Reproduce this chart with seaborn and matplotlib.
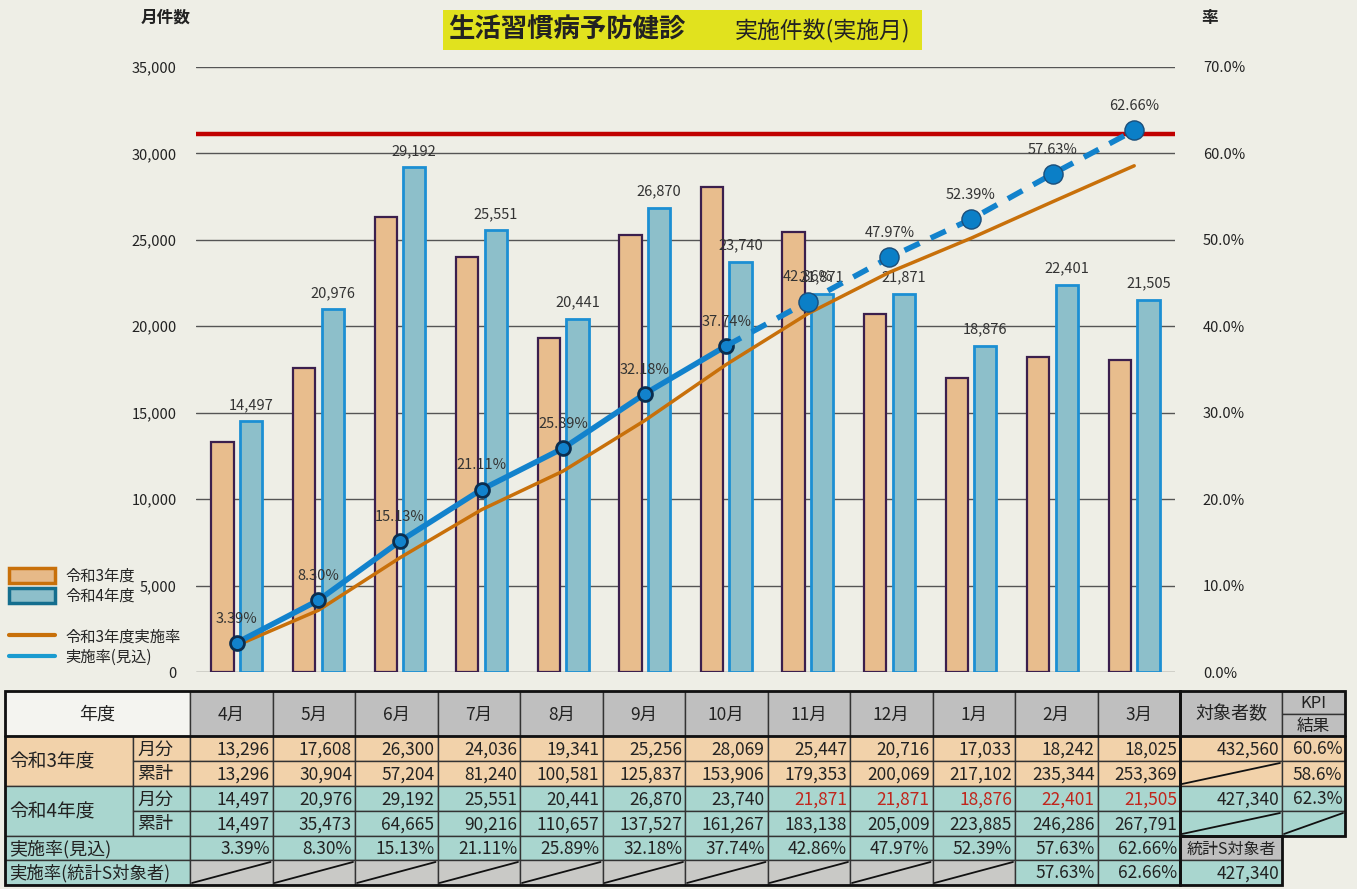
import pandas as pd
import seaborn as sns
import numpy as np
import matplotlib.pyplot as plt
from matplotlib.patches import Rectangle, Patch
from matplotlib.lines import Line2D
from matplotlib.ticker import FuncFormatter, MultipleLocator

months = ['4月', '5月', '6月', '7月', '8月', '9月', '10月', '11月', '12月', '1月', '2月', '3月']
r3_monthly = [13296, 17608, 26300, 24036, 19341, 25256, 28069, 25447, 20716, 17033, 18242, 18025]
r3_cum = [13296, 30904, 57204, 81240, 100581, 125837, 153906, 179353, 200069, 217102, 235344, 253369]
r4_monthly = [14497, 20976, 29192, 25551, 20441, 26870, 23740, 21871, 21871, 18876, 22401, 21505]
r4_cum = [14497, 35473, 64665, 90216, 110657, 137527, 161267, 183138, 205009, 223885, 246286, 267791]
# 令和3年度実施率
r3_rate = [3.07, 7.14, 13.22, 18.78, 23.25, 29.09, 35.58, 41.46, 46.25, 50.19, 54.41, 58.57]
rate_est = [3.39, 8.30, 15.13, 21.11, 25.89, 32.18, 37.74, 42.86, 47.97, 52.39, 57.63, 62.66]
rate_stat = [None] * 10 + [57.63, 62.66]
n_actual = 7  # 4月〜10月 are actual, the rest is estimated
kpi_target = 62.3
r3_target, r4_target, stat_target = 432560, 427340, 427340
kpi_r3, kpi_r3_cum, kpi_r4 = 60.6, 58.6, 62.3

BG = '#EEEEE6'
ORANGE_BAR = '#E8BD8D'
BLUE_BAR = '#8DBFCA'
ORANGE_CELL = '#F2D2AA'
TEAL_CELL = '#A9D6CF'
GRAY_CELL = '#BFBFBF'

sns.set_theme(style='white')
plt.rcParams['font.family'] = ['Noto Sans CJK JP', 'DejaVu Sans']

fig = plt.figure(figsize=(13.57, 8.89), dpi=100, facecolor=BG)

# overlay axes in pixel coordinates for title, legend and table
tab = fig.add_axes([0, 0, 1, 1], zorder=0)
tab.set_xlim(0, 1357)
tab.set_ylim(889, 0)
tab.axis('off')

# chart
ax = fig.add_axes([196 / 1357, 217 / 889, 979 / 1357, 605 / 889], zorder=2)
ax.patch.set_alpha(0)
df = pd.DataFrame({
    '月': months * 2,
    '件数': r3_monthly + r4_monthly,
    '年度': ['令和3年度'] * 12 + ['令和4年度'] * 12,
})
sns.barplot(data=df, x='月', y='件数', hue='年度', palette=[ORANGE_BAR, BLUE_BAR],
            width=0.7, gap=0.22, legend=False, ax=ax, saturation=1)
for bar in ax.containers[0]:
    bar.set_edgecolor('#3B1F4D')
    bar.set_linewidth(1.6)
for bar in ax.containers[1]:
    bar.set_edgecolor('#1C8FD3')
    bar.set_linewidth(2)

ax.set_xlim(-0.5, 11.5)
ax.set_ylim(0, 35000)
ax.yaxis.set_major_locator(MultipleLocator(5000))
ax.yaxis.set_major_formatter(FuncFormatter(lambda v, p: f'{int(v):,}'))
ax.grid(axis='y', color='#555555', lw=1)
ax.set_axisbelow(True)
ax.set_xticks([])
ax.set_xlabel('')
ax.set_ylabel('')
ax.tick_params(axis='y', length=0, pad=14, labelsize=10.5, colors='#222222')
for s in ax.spines.values():
    s.set_visible(False)

for i, v in enumerate(r4_monthly):
    ax.text(i + 0.175, v + 550, f'{v:,}', ha='center', va='bottom', fontsize=10.5, color='#333333')

# rates
ax2 = ax.twinx()
ax2.set_ylim(0, 70)
ax2.yaxis.set_major_locator(MultipleLocator(10))
ax2.yaxis.set_major_formatter(FuncFormatter(lambda v, p: f'{v:.1f}%'))
ax2.tick_params(axis='y', length=0, pad=20, labelsize=10.5, colors='#222222')
for s in ax2.spines.values():
    s.set_visible(False)
ax2.grid(False)

x = np.arange(12)
ax2.axhline(kpi_target, color='#C00000', lw=3.2, xmin=0, xmax=1, zorder=3)
sns.lineplot(x=x, y=r3_rate, ax=ax2, color='#C8700A', lw=2.5, zorder=4)
sns.lineplot(x=x[:n_actual], y=rate_est[:n_actual], ax=ax2, color='#1282CC', lw=4, zorder=5,
             marker='o', markersize=10, markerfacecolor='#1282CC', markeredgecolor='#0B2E4F',
             markeredgewidth=2)
sns.lineplot(x=x[n_actual - 1:], y=rate_est[n_actual - 1:], ax=ax2, color='#1282CC', lw=4,
             zorder=5, dashes=(3, 2.2))
ax2.scatter(x[n_actual:], rate_est[n_actual:], s=190, color='#0B7FC7', edgecolor='#1B4E7A',
            lw=1, zorder=6)
for i, r in enumerate(rate_est):
    ax2.text(i, r + 2.8, f'{r:.2f}%', ha='center', va='center', fontsize=10.5, color='#333333', zorder=7)
ax2.set_xlim(-0.5, 11.5)

# axis titles
tab.text(166, 18, '月件数', ha='center', va='center', fontsize=12, fontweight='bold', color='#222')
tab.text(1210, 18, '率', ha='center', va='center', fontsize=12, fontweight='bold', color='#222')

# title
tab.add_patch(Rectangle((443, 10), 479, 40, fc='#E1E21E', ec='none'))
tab.text(448, 30, '生活習慣病予防健診', ha='left', va='center', fontsize=19, fontweight='bold', color='#222')
tab.text(735, 31, '実施件数(実施月)', ha='left', va='center', fontsize=16.5, color='#222')

# legend
handles = [
    Patch(facecolor='#E6B988', edgecolor='#C8700A', lw=2.5, label='令和3年度'),
    Patch(facecolor='#8DBFCA', edgecolor='#146E8E', lw=2.5, label='令和4年度'),
    Line2D([], [], color='none', label=' '),
    Line2D([], [], color='#C8700A', lw=3, label='令和3年度実施率'),
    Line2D([], [], color='#1A9BD0', lw=3, label='実施率(見込)'),
]
fig.legend(handles=handles, loc='upper left', bbox_to_anchor=(0.0, 0.372), frameon=False,
           fontsize=11, handlelength=3.0, handleheight=1.1, labelspacing=0.22, handletextpad=0.7,
           borderaxespad=0.2)

# table
col_edges = [190 + 82.5 * k for k in range(13)]
row_edges = [736, 761, 786, 811, 836, 860, 885]
head_top = 691


def cell(x0, x1, y0, y1, fc, text='', ha='right', color='#222222', slash=False, fs=12.5):
    tab.add_patch(Rectangle((x0, y0), x1 - x0, y1 - y0, fc=fc, ec='#333333', lw=1))
    if slash:
        tab.plot([x0 + 2, x1 - 2], [y1 - 2, y0 + 2], color='#111111', lw=1.3)
    if text:
        if ha == 'right':
            tx = x1 - 3
        elif ha == 'left':
            tx = x0 + 4
        else:
            tx = (x0 + x1) / 2
        tab.text(tx, (y0 + y1) / 2 + 1, text, ha=ha, va='center', fontsize=fs, color=color)


# header
cell(5, 190, head_top, row_edges[0], '#F4F4F0', '年度', ha='center', fs=13)
for k, m in enumerate(months):
    cell(col_edges[k], col_edges[k + 1], head_top, row_edges[0], GRAY_CELL, m, ha='center', fs=12.5)
cell(1180, 1282, head_top, row_edges[0], GRAY_CELL, '対象者数', ha='center', fs=13)
cell(1282, 1345, head_top, 714, GRAY_CELL, 'KPI', ha='center', fs=12)
cell(1282, 1345, 714, row_edges[0], GRAY_CELL, '結果', ha='center', fs=12)

# row labels
cell(5, 133, row_edges[0], row_edges[2], ORANGE_CELL, '令和3年度', ha='left', fs=13.5)
cell(133, 190, row_edges[0], row_edges[1], ORANGE_CELL, '月分', ha='left', fs=13)
cell(133, 190, row_edges[1], row_edges[2], ORANGE_CELL, '累計', ha='left', fs=13)
cell(5, 133, row_edges[2], row_edges[4], TEAL_CELL, '令和4年度', ha='left', fs=13.5)
cell(133, 190, row_edges[2], row_edges[3], TEAL_CELL, '月分', ha='left', fs=13)
cell(133, 190, row_edges[3], row_edges[4], TEAL_CELL, '累計', ha='left', fs=13)
cell(5, 190, row_edges[4], row_edges[5], TEAL_CELL, '実施率(見込)', ha='left', fs=13)
cell(5, 190, row_edges[5], row_edges[6], TEAL_CELL, '実施率(統計S対象者)', ha='left', fs=12.5)

for k in range(12):
    x0, x1 = col_edges[k], col_edges[k + 1]
    cell(x0, x1, row_edges[0], row_edges[1], ORANGE_CELL, f'{r3_monthly[k]:,}')
    cell(x0, x1, row_edges[1], row_edges[2], ORANGE_CELL, f'{r3_cum[k]:,}')
    est_color = '#C0261C' if k >= n_actual else '#222222'
    cell(x0, x1, row_edges[2], row_edges[3], TEAL_CELL, f'{r4_monthly[k]:,}', color=est_color)
    cell(x0, x1, row_edges[3], row_edges[4], TEAL_CELL, f'{r4_cum[k]:,}')
    cell(x0, x1, row_edges[4], row_edges[5], TEAL_CELL, f'{rate_est[k]:.2f}%')
    if rate_stat[k] is None:
        cell(x0, x1, row_edges[5], row_edges[6], '#C9C9C6', slash=True)
    else:
        cell(x0, x1, row_edges[5], row_edges[6], TEAL_CELL, f'{rate_stat[k]:.2f}%')

cell(1180, 1282, row_edges[0], row_edges[1], ORANGE_CELL, f'{r3_target:,}')
cell(1282, 1345, row_edges[0], row_edges[1], ORANGE_CELL, f'{kpi_r3:.1f}%')
cell(1180, 1282, row_edges[1], row_edges[2], ORANGE_CELL, slash=True)
cell(1282, 1345, row_edges[1], row_edges[2], ORANGE_CELL, f'{kpi_r3_cum:.1f}%')
cell(1180, 1282, row_edges[2], row_edges[3], TEAL_CELL, f'{r4_target:,}')
cell(1282, 1345, row_edges[2], row_edges[3], TEAL_CELL, f'{kpi_r4:.1f}%')
cell(1180, 1282, row_edges[3], row_edges[4], TEAL_CELL, slash=True)
cell(1282, 1345, row_edges[3], row_edges[4], TEAL_CELL, slash=True)
cell(1180, 1282, row_edges[4], row_edges[5], GRAY_CELL, '統計S対象者', ha='center', fs=11.5)
cell(1180, 1282, row_edges[5], row_edges[6], TEAL_CELL, f'{stat_target:,}')

# thicker outer borders
for (x0, y0, x1, y1) in [(5, head_top, 1180, row_edges[6]), (1180, head_top, 1345, row_edges[4]),
                         (1180, row_edges[4], 1282, row_edges[6])]:
    tab.add_patch(Rectangle((x0, y0), x1 - x0, y1 - y0, fc='none', ec='#111111', lw=2))
tab.plot([5, 1345], [row_edges[0], row_edges[0]], color='#111111', lw=2)

fig.savefig('out.png', dpi=100, facecolor=BG)
